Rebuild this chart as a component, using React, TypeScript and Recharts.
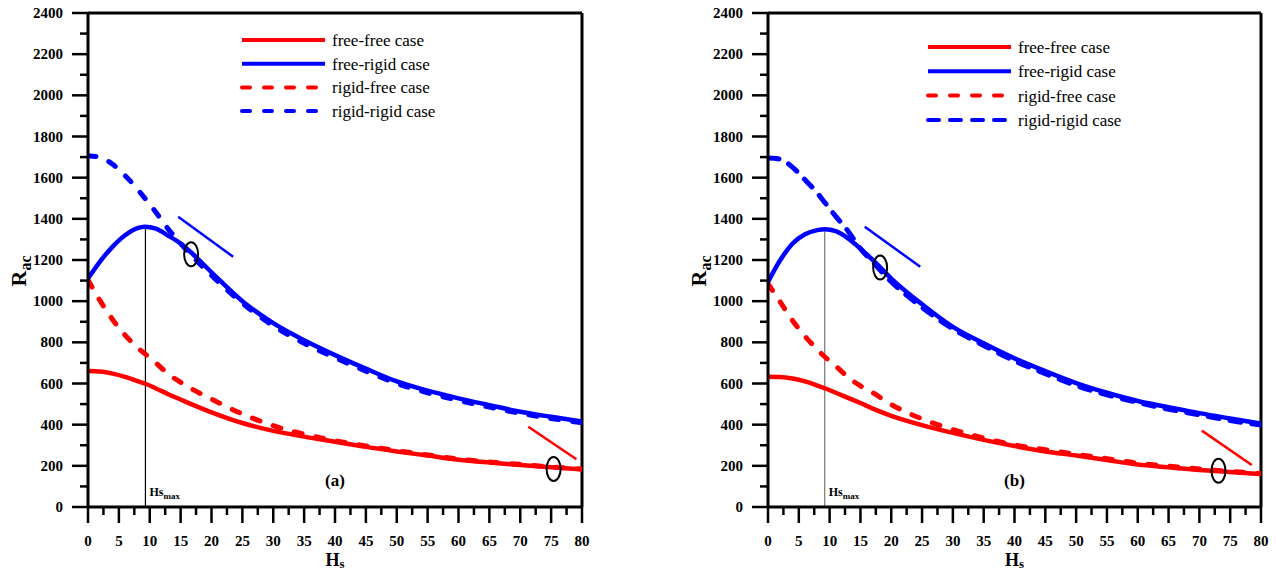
import React from 'react';
import { LineChart, Line, XAxis, YAxis, ReferenceLine, ReferenceDot, Customized } from 'recharts';

// ---------- data ----------
const hsGrid = [0, 2, 4, 6, 8, 9.2, 11, 13, 15, 17, 20, 25, 30, 35, 40, 45, 50, 55, 60, 65, 70, 75, 80];

// panel (a)
const freeFreeA = [661, 658, 648, 632, 612, 600, 576, 548, 522, 496, 460, 408, 370, 342, 317, 292, 270, 250, 230, 216, 204, 193, 183];
const freeRigidA = [1110, 1195, 1265, 1320, 1355, 1362, 1352, 1318, 1280, 1228, 1140, 1000, 893, 810, 738, 672, 610, 565, 528, 495, 463, 438, 415];
const rigidFreeA = [1103, 1000, 910, 835, 775, 745, 700, 646, 606, 570, 524, 452, 395, 354, 322, 297, 274, 253, 233, 219, 207, 195, 185];
const rigidRigidA = [1707, 1698, 1665, 1610, 1545, 1500, 1432, 1350, 1280, 1215, 1125, 990, 880, 795, 725, 660, 600, 555, 518, 485, 455, 430, 410];

// panel (b)
const freeFreeB = [633, 632, 624, 610, 590, 577, 555, 530, 505, 478, 443, 398, 360, 326, 296, 270, 250, 228, 206, 193, 180, 170, 160];
const freeRigidB = [1094, 1200, 1280, 1325, 1345, 1350, 1340, 1305, 1255, 1200, 1110, 985, 875, 795, 722, 660, 602, 555, 515, 485, 456, 430, 405];
const rigidFreeB = [1085, 995, 905, 830, 765, 730, 685, 630, 588, 555, 498, 428, 376, 335, 302, 278, 256, 235, 213, 199, 185, 173, 163];
const rigidRigidB = [1695, 1690, 1650, 1590, 1525, 1480, 1412, 1340, 1255, 1190, 1095, 970, 865, 785, 710, 648, 590, 545, 508, 475, 448, 420, 398];

const xTicks = [0, 2.5, 5, 7.5, 10, 12.5, 15, 17.5, 20, 22.5, 25, 27.5, 30, 32.5, 35, 37.5, 40, 42.5, 45, 47.5, 50, 52.5, 55, 57.5, 60, 62.5, 65, 67.5, 70, 72.5, 75, 77.5, 80];
const yTicks = [0, 100, 200, 300, 400, 500, 600, 700, 800, 900, 1000, 1100, 1200, 1300, 1400, 1500, 1600, 1700, 1800, 1900, 2000, 2100, 2200, 2300, 2400];

const legendLabels = ['free-free case', 'free-rigid case', 'rigid-free case', 'rigid-rigid case'];
const legendColors = ['#ff0000', '#0000ff', '#ff0000', '#0000ff'];

// annotations: [x, y]
const hsMaxA = 9.3, hsMaxTopA = 1368;
const hsMaxB = 9.2, hsMaxTopB = 1346;
const ellipsesA = [[16.7, 1228], [75.4, 185]];
const ellipsesB = [[18.2, 1163], [73.1, 176]];
const blueSegA = [[14.6, 1410], [23.5, 1216]];
const redSegA = [[71.3, 390], [79.1, 232]];
const blueSegB = [[15.7, 1362], [24.7, 1167]];
const redSegB = [[70.4, 371], [78.5, 204]];

const FONT = "'Liberation Serif', Tinos, 'Times New Roman', 'DejaVu Serif', serif";
const RED = '#ff0000';
const BLUE = '#0000ff';

const toPts = (ys: number[]) => hsGrid.map((x, i) => ({ x, y: ys[i] }));

const txt = (size: number, bold: boolean) => ({ fontFamily: FONT, fontSize: size, fontWeight: bold ? 700 : 400 });

const YTick = (props: any) => {
  const { x, y, payload } = props;
  const major = payload.value % 200 === 0;
  return (
    <g>
      <line x1={x - (major ? 16 : 8)} x2={x} y1={y} y2={y} stroke="#000" strokeWidth={2.5} />
      {major && (
        <text x={x - 25} y={y + 5} textAnchor="end" style={txt(15, true)} fill="#000">
          {payload.value}
        </text>
      )}
    </g>
  );
};

const XTick = (props: any) => {
  const { x, y, payload } = props;
  const major = payload.value % 5 === 0;
  return (
    <g>
      <line x1={x} x2={x} y1={y} y2={y + (major ? 16 : 8)} stroke="#000" strokeWidth={2.5} />
      {major && (
        <text x={x} y={y + 39} textAnchor="middle" style={txt(15, true)} fill="#000">
          {payload.value}
        </text>
      )}
    </g>
  );
};

type PanelProps = {
  ff: number[]; fr: number[]; rf: number[]; rr: number[];
  marginLeft: number; marginRight: number;
  legendX: number; legendY: number; legendGap: number;
  tag: string;
  hsMax: number; hsMaxTop: number; hsMaxColor: string;
  ellipses: number[][]; blueSeg: number[][]; redSeg: number[][];
  rrDash: string;
};

const Panel = (p: PanelProps) => {
  const plotLeft = p.marginLeft + 88;
  const plotRight = 638 - p.marginRight;
  const cx = (plotLeft + plotRight) / 2;
  const dashes = ['', '', '8 14', p.rrDash];
  const Overlay = () => (
    <g>
      {legendLabels.map((lab, i) => {
        const yy = p.legendY + i * p.legendGap;
        return (
          <g key={lab}>
            <line x1={p.legendX} x2={p.legendX + 83} y1={yy} y2={yy} stroke={legendColors[i]} strokeWidth={4}
              strokeDasharray={dashes[i] || undefined} strokeLinecap={i >= 2 ? 'round' : 'butt'} />
            <text x={p.legendX + 90} y={yy + 6} style={txt(17, false)} fill="#000">{lab}</text>
          </g>
        );
      })}
      <text x={cx} y={486} textAnchor="middle" style={txt(17, true)} fill="#000">{p.tag}</text>
      <text x={cx} y={566} textAnchor="middle" style={txt(18, true)} fill="#000">
        H<tspan style={{ fontSize: 13 }} dy={2}>s</tspan>
      </text>
      <text transform={`translate(${plotLeft - 62}, 271) rotate(-90)`} textAnchor="middle" style={txt(22, true)} fill="#000">
        R<tspan style={{ fontSize: 16 }} dy={5}>ac</tspan>
      </text>
    </g>
  );
  return (
    <LineChart width={638} height={572} margin={{ top: 13, right: p.marginRight, bottom: 0, left: p.marginLeft }}>
      <XAxis type="number" dataKey="x" domain={[0, 80]} ticks={xTicks} interval={0} height={65}
        tick={<XTick />} tickLine={false} tickSize={0} tickMargin={0} axisLine={{ stroke: '#000', strokeWidth: 3 }} allowDataOverflow />
      <YAxis type="number" dataKey="y" domain={[0, 2400]} ticks={yTicks} interval={0} width={88}
        tick={<YTick />} tickLine={false} tickSize={0} tickMargin={0} axisLine={{ stroke: '#000', strokeWidth: 3 }} allowDataOverflow />
      <ReferenceLine y={2400} stroke="#000" strokeWidth={3} />
      <ReferenceLine x={80} stroke="#000" strokeWidth={3} />
      <ReferenceLine segment={[{ x: p.hsMax, y: 0 }, { x: p.hsMax, y: p.hsMaxTop }]} stroke={p.hsMaxColor} strokeWidth={1.2} />
      <Line data={toPts(p.rr)} dataKey="y" type="monotone" stroke={BLUE} strokeWidth={5} strokeDasharray={p.rrDash} strokeLinecap="round" dot={false} isAnimationActive={false} />
      <Line data={toPts(p.rf)} dataKey="y" type="monotone" stroke={RED} strokeWidth={5} strokeDasharray="8 14" strokeLinecap="round" dot={false} isAnimationActive={false} />
      <Line data={toPts(p.fr)} dataKey="y" type="monotone" stroke={BLUE} strokeWidth={4.5} dot={false} isAnimationActive={false} />
      <Line data={toPts(p.ff)} dataKey="y" type="monotone" stroke={RED} strokeWidth={4.5} dot={false} isAnimationActive={false} />
      <ReferenceLine segment={[{ x: p.blueSeg[0][0], y: p.blueSeg[0][1] }, { x: p.blueSeg[1][0], y: p.blueSeg[1][1] }]} stroke={BLUE} strokeWidth={2.5} />
      <ReferenceLine segment={[{ x: p.redSeg[0][0], y: p.redSeg[0][1] }, { x: p.redSeg[1][0], y: p.redSeg[1][1] }]} stroke={RED} strokeWidth={2.5} />
      {p.ellipses.map((e, i) => (
        <ReferenceDot key={i} x={e[0]} y={e[1]} r={1}
          shape={(s: any) => <ellipse cx={s.cx} cy={s.cy} rx={7} ry={12} fill="none" stroke="#000" strokeWidth={2} />} />
      ))}
      <ReferenceDot x={p.hsMax} y={0} r={1}
        shape={(s: any) => (
          <text x={s.cx + 4} y={s.cy - 11} style={txt(12, true)} fill="#000">
            Hs<tspan style={{ fontSize: 9 }} dy={3}>max</tspan>
          </text>
        )} />
      <Customized component={Overlay} />
    </LineChart>
  );
};

export default function App() {
  return (
    <div style={{ position: 'absolute', left: 0, top: 0, width: 1276, height: 572, display: 'flex', background: '#fff' }}>
      <Panel ff={freeFreeA} fr={freeRigidA} rf={rigidFreeA} rr={rigidRigidA}
        marginLeft={0} marginRight={56} legendX={242} legendY={40} legendGap={23.7} tag="(a)"
        hsMax={hsMaxA} hsMaxTop={hsMaxTopA} hsMaxColor="#000" ellipses={ellipsesA} blueSeg={blueSegA} redSeg={redSegA} rrDash="8 14" />
      <Panel ff={freeFreeB} fr={freeRigidB} rf={rigidFreeB} rr={rigidRigidB}
        marginLeft={42} marginRight={15} legendX={290} legendY={47} legendGap={24.3} tag="(b)"
        hsMax={hsMaxB} hsMaxTop={hsMaxTopB} hsMaxColor="#777" ellipses={ellipsesB} blueSeg={blueSegB} redSeg={redSegB} rrDash="11 11" />
    </div>
  );
}
